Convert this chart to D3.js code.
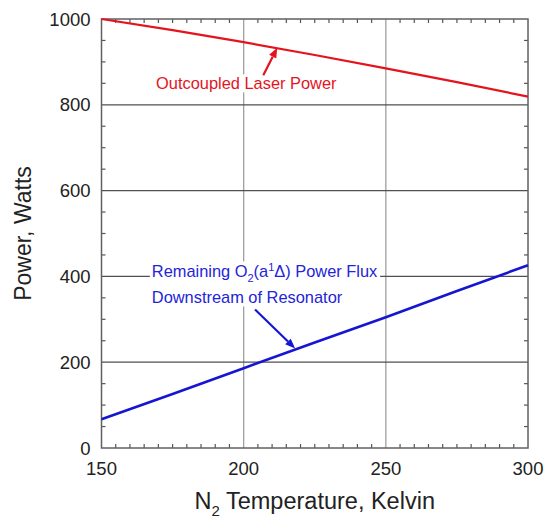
<!DOCTYPE html>
<html lang="en">
<head>
<meta charset="utf-8">
<title>Power vs N2 temperature</title>
<script src="https://cdn.jsdelivr.net/npm/d3@7"></script>
<style>
body{margin:0;background:#fff;}
svg{display:block;font-family:"Liberation Sans",Arial,sans-serif;background:#fff;}
</style>
</head>
<body>
<script>
// values
let temps = [150, 175, 200, 225, 250, 275, 300];
let laserPower = [1000, 974, 946, 916, 885, 853, 819];
let o2Flux = [67, 126, 186, 246, 305, 366, 426];
let xTicks = [150, 200, 250, 300];
let yTicks = [0, 200, 400, 600, 800, 1000];

let w = 545, h = 519;
let margin = {top: 19, right: 17, bottom: 71, left: 101.5};

let svg = d3.select("body").append("svg")
    .attr("width", w)
    .attr("height", h);

let x = d3.scaleLinear().domain([150, 300]).range([margin.left, w - margin.right]);
let y = d3.scaleLinear().domain([0, 1000]).range([h - margin.bottom, margin.top]);

// vertical grid (light) and horizontal grid (dark)
svg.append("g").selectAll("line")
    .data(xTicks.slice(1, -1))
    .enter().append("line")
    .attr("x1", d => x(d)).attr("x2", d => x(d))
    .attr("y1", y(0)).attr("y2", y(1000))
    .attr("stroke", "#a0a0a0").attr("stroke-width", 1.3);

svg.append("g").selectAll("line")
    .data(yTicks.slice(1, -1))
    .enter().append("line")
    .attr("x1", x(150)).attr("x2", x(300))
    .attr("y1", d => y(d)).attr("y2", d => y(d))
    .attr("stroke", "#505050").attr("stroke-width", 1.2);

// minor ticks, pointing inwards, on all four sides
let xMinor = d3.range(155, 300, 5).filter(d => d % 50 != 0);
let yMinor = d3.range(50, 1000, 50).filter(d => d % 200 != 0);
let tickLen = 4;
let ticks = svg.append("g").attr("stroke", "#555").attr("stroke-width", 1.2);
ticks.selectAll(".xb").data(xMinor).enter().append("line")
    .attr("x1", d => x(d)).attr("x2", d => x(d))
    .attr("y1", y(0)).attr("y2", y(0) - tickLen);
ticks.selectAll(".xt").data(xMinor).enter().append("line")
    .attr("x1", d => x(d)).attr("x2", d => x(d))
    .attr("y1", y(1000)).attr("y2", y(1000) + tickLen);
ticks.selectAll(".yl").data(yMinor).enter().append("line")
    .attr("x1", x(150)).attr("x2", x(150) + tickLen)
    .attr("y1", d => y(d)).attr("y2", d => y(d));
ticks.selectAll(".yr").data(yMinor).enter().append("line")
    .attr("x1", x(300)).attr("x2", x(300) - tickLen)
    .attr("y1", d => y(d)).attr("y2", d => y(d));

// frame
svg.append("rect")
    .attr("x", x(150)).attr("y", y(1000))
    .attr("width", x(300) - x(150)).attr("height", y(0) - y(1000))
    .attr("fill", "none").attr("stroke", "#606060").attr("stroke-width", 1.5);

// tick labels
svg.append("g").selectAll("text")
    .data(xTicks).enter().append("text")
    .attr("x", d => x(d)).attr("y", y(0) + 27)
    .attr("text-anchor", "middle")
    .attr("font-size", 18.5).attr("fill", "#222")
    .text(d => d);

svg.append("g").selectAll("text")
    .data(yTicks).enter().append("text")
    .attr("x", x(150) - 11).attr("y", d => y(d) + 6.5)
    .attr("text-anchor", "end")
    .attr("font-size", 18.5).attr("fill", "#222")
    .text(d => d);

// axis titles
let xTitle = svg.append("text")
    .attr("x", (x(150) + x(300)) / 2).attr("y", y(0) + 61)
    .attr("text-anchor", "middle")
    .attr("font-size", 23.5).attr("fill", "#222");
xTitle.append("tspan").text("N");
xTitle.append("tspan").attr("font-size", 15).attr("dy", 7).text("2");
xTitle.append("tspan").attr("dy", -7).text(" Temperature, Kelvin");

svg.append("text")
    .attr("transform", "translate(" + 31 + "," + ((y(0) + y(1000)) / 2) + ") rotate(-90)")
    .attr("text-anchor", "middle")
    .attr("font-size", 23).attr("fill", "#222")
    .text("Power, Watts");

// lines
let line = d3.line().x(d => x(d[0])).y(d => y(d[1]));

svg.append("path")
    .datum(temps.map((t, i) => [t, laserPower[i]]))
    .attr("d", line)
    .attr("fill", "none").attr("stroke", "#e4141e").attr("stroke-width", 2.2);

svg.append("path")
    .datum(temps.map((t, i) => [t, o2Flux[i]]))
    .attr("d", line)
    .attr("fill", "none").attr("stroke", "#1616d2").attr("stroke-width", 2.6);

// annotations (data coordinates)
function addArrow(from, to, color) {
    let x1 = x(from[0]), y1 = y(from[1]), x2 = x(to[0]), y2 = y(to[1]);
    let ang = Math.atan2(y2 - y1, x2 - x1);
    let len = 10, wid = 4;
    let bx = x2 - len * Math.cos(ang), by = y2 - len * Math.sin(ang);
    svg.append("line")
        .attr("x1", x1).attr("y1", y1).attr("x2", bx).attr("y2", by)
        .attr("stroke", color).attr("stroke-width", 2.2);
    let pts = [
        [x2, y2],
        [bx + wid * Math.sin(ang), by - wid * Math.cos(ang)],
        [bx - wid * Math.sin(ang), by + wid * Math.cos(ang)]
    ];
    svg.append("polygon")
        .attr("points", pts.map(p => p.join(",")).join(" "))
        .attr("fill", color);
}

function whiteBox(g) {
    let b = g.node().getBBox();
    g.insert("rect", ":first-child")
        .attr("x", b.x - 2).attr("y", b.y)
        .attr("width", b.width + 4).attr("height", b.height)
        .attr("fill", "#fff");
}

let redLabel = svg.append("g");
redLabel.append("text")
    .attr("x", x(169.2)).attr("y", y(836))
    .attr("font-size", 16.4).attr("fill", "#e4141e")
    .text("Outcoupled Laser Power");
whiteBox(redLabel);
addArrow([206.9, 869], [211.8, 933], "#e4141e");

let blueLabel = svg.append("g").attr("font-size", 16.4).attr("fill", "#2424d8");
let t1 = blueLabel.append("text")
    .attr("x", x(167.7)).attr("y", y(400) + 1);
t1.append("tspan").text("Remaining O");
t1.append("tspan").attr("font-size", 11).attr("dy", 5).text("2");
t1.append("tspan").attr("dy", -5).text("(a");
t1.append("tspan").attr("font-size", 11).attr("dy", -6).text("1");
t1.append("tspan").attr("dy", 6).text("\u0394) Power Flux");
blueLabel.append("text")
    .attr("x", x(167.7)).attr("y", y(337))
    .text("Downstream of Resonator");
whiteBox(blueLabel);
addArrow([204, 323], [218.1, 232], "#1616d2");
</script>
</body>
</html>
